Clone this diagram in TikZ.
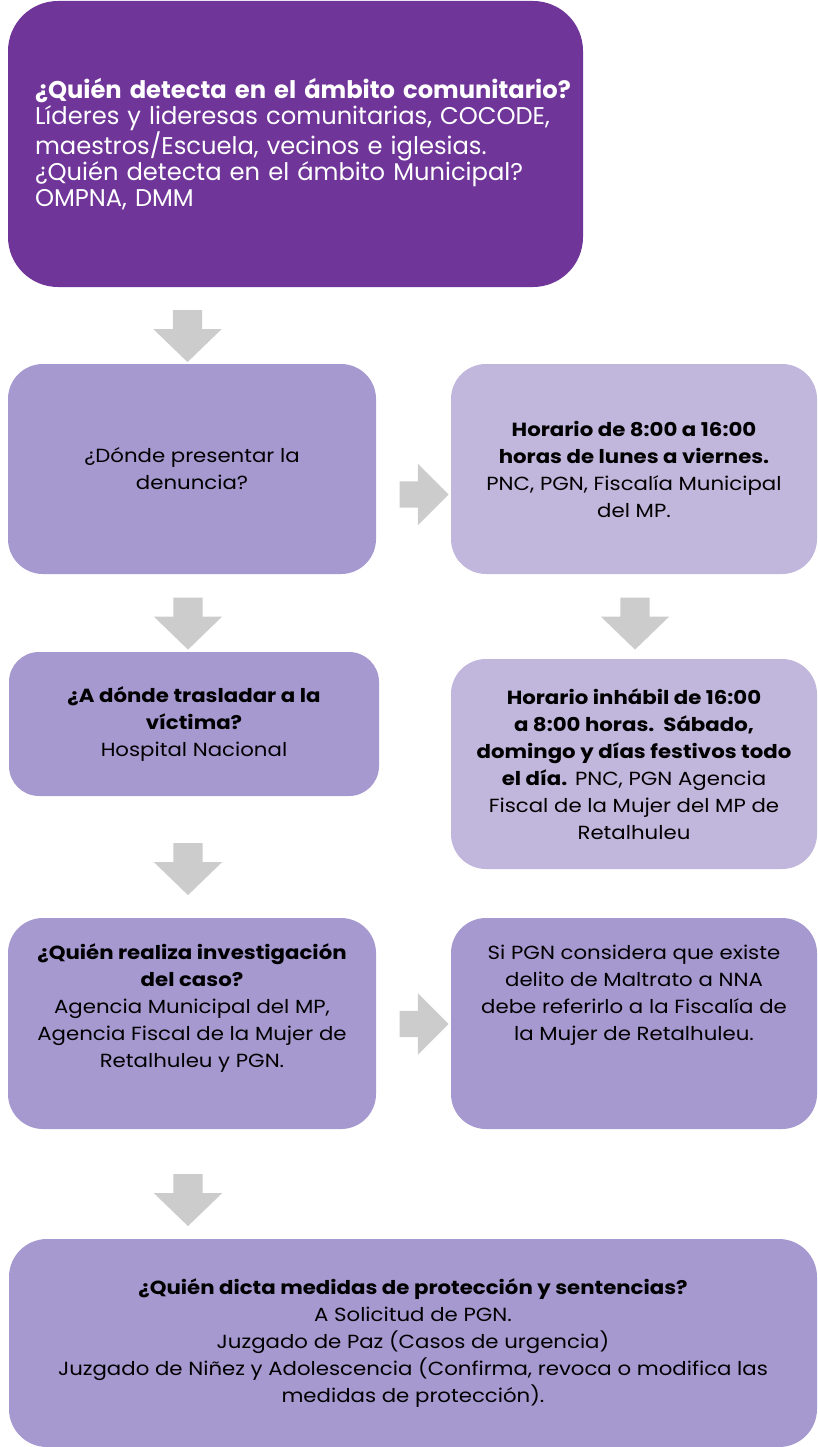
\documentclass[tikz,border=0pt]{standalone}
\usepackage{fontspec}
\setmainfont{Poppins}
\newfontfamily\widefont[FakeStretch=1.12]{Poppins}
\usetikzlibrary{shapes.arrows}
\definecolor{darkpurple}{RGB}{112,53,153}
\definecolor{midlilac}{RGB}{165,153,208}
\definecolor{palelilac}{RGB}{193,182,220}
\definecolor{arrowgray}{RGB}{204,204,204}
\tikzset{
	box/.style={rectangle, rounded corners=35pt, fill=midlilac, text=black, align=center, inner sep=0pt, font=\widefont\fontsize{19}{27}\selectfont},
	pale/.style={box, fill=palelilac},
	downarrow/.style={single arrow, fill=arrowgray, rotate=-90, inner xsep=0pt, inner ysep=14.5pt, minimum height=52pt, single arrow head extend=19.5pt, single arrow tip angle=92},
	rightarrow/.style={single arrow, fill=arrowgray, inner xsep=0pt, inner ysep=13pt, minimum height=49pt, single arrow head extend=17.5pt, single arrow tip angle=90}
}
\begin{document}
\begin{tikzpicture}[x=1pt,y=-1pt]
					\useasboundingbox (0,0) rectangle (817,1447);
					\node[box, fill=darkpurple, text=white, rounded corners=50pt, minimum width=575pt, minimum height=286pt, text width=521pt, align=left, font=\fontsize{24.2}{26.2}\selectfont] (b_1) at (295.5,144) {\mbox{\textbf{¿Quién detecta en el ámbito comunitario?}}\\ Líderes y lideresas comunitarias, COCODE,\\ maestros/Escuela, vecinos e iglesias.\\ ¿Quién detecta en el ámbito Municipal?\\ OMPNA, DMM};
					\node[box, minimum width=368pt, minimum height=210pt] (b_2) at (192,469) {¿Dónde presentar la\\ denuncia?};
					\node[pale, minimum width=366pt, minimum height=210pt] (b_3) at (634,469) {\textbf{Horario de 8:00 a 16:00}\\ \textbf{horas de lunes a viernes.}\\ PNC, PGN, Fiscalía Municipal\\ del MP.};
					\node[box, rounded corners=30pt, minimum width=370pt, minimum height=144pt] (b_4) at (194,724) {\textbf{¿A dónde trasladar a la}\\ \textbf{víctima?}\\ Hospital Nacional};
					\node[pale, minimum width=366pt, minimum height=210pt] (b_5) at (634,764) {\textbf{Horario inhábil de 16:00}\\ \textbf{a 8:00 horas.\ \ Sábado,}\\ \textbf{domingo y días festivos todo}\\ \textbf{el día.} PNC, PGN Agencia\\ Fiscal de la Mujer del MP de\\ Retalhuleu};
					\node[box, minimum width=368pt, minimum height=211pt] (b_6) at (192,1023.5) {\textbf{¿Quién realiza investigación}\\ \textbf{del caso?}\\ Agencia Municipal del MP,\\ Agencia Fiscal de la Mujer de\\ Retalhuleu y PGN.\\ \strut};
					\node[box, minimum width=366pt, minimum height=211pt] (b_7) at (634,1023.5) {Si PGN considera que existe\\ delito de Maltrato a NNA\\ debe referirlo a la Fiscalía de\\ la Mujer de Retalhuleu.\\ \strut\\ \strut};
					\node[box, rounded corners=38pt, minimum width=808pt, minimum height=208pt] (b_8) at (413,1343) {\textbf{¿Quién dicta medidas de protección y sentencias?}\\ A Solicitud de PGN.\\ Juzgado de Paz (Casos de urgencia)\\ Juzgado de Niñez y Adolescencia (Confirma, revoca o modifica las\\ medidas de protección).};
					\node[downarrow] (a_1) at (187.5,329) {};
					\node[downarrow] (a_2) at (188,616.5) {};
					\node[downarrow] (a_3) at (635,616.5) {};
					\node[downarrow] (a_4) at (188,862) {};
					\node[downarrow] (a_5) at (188,1193) {};
					\node[rightarrow] (r_1) at (417.5,494.5) {};
					\node[rightarrow] (r_2) at (417.5,1024) {};
				\end{tikzpicture}
\end{document}
